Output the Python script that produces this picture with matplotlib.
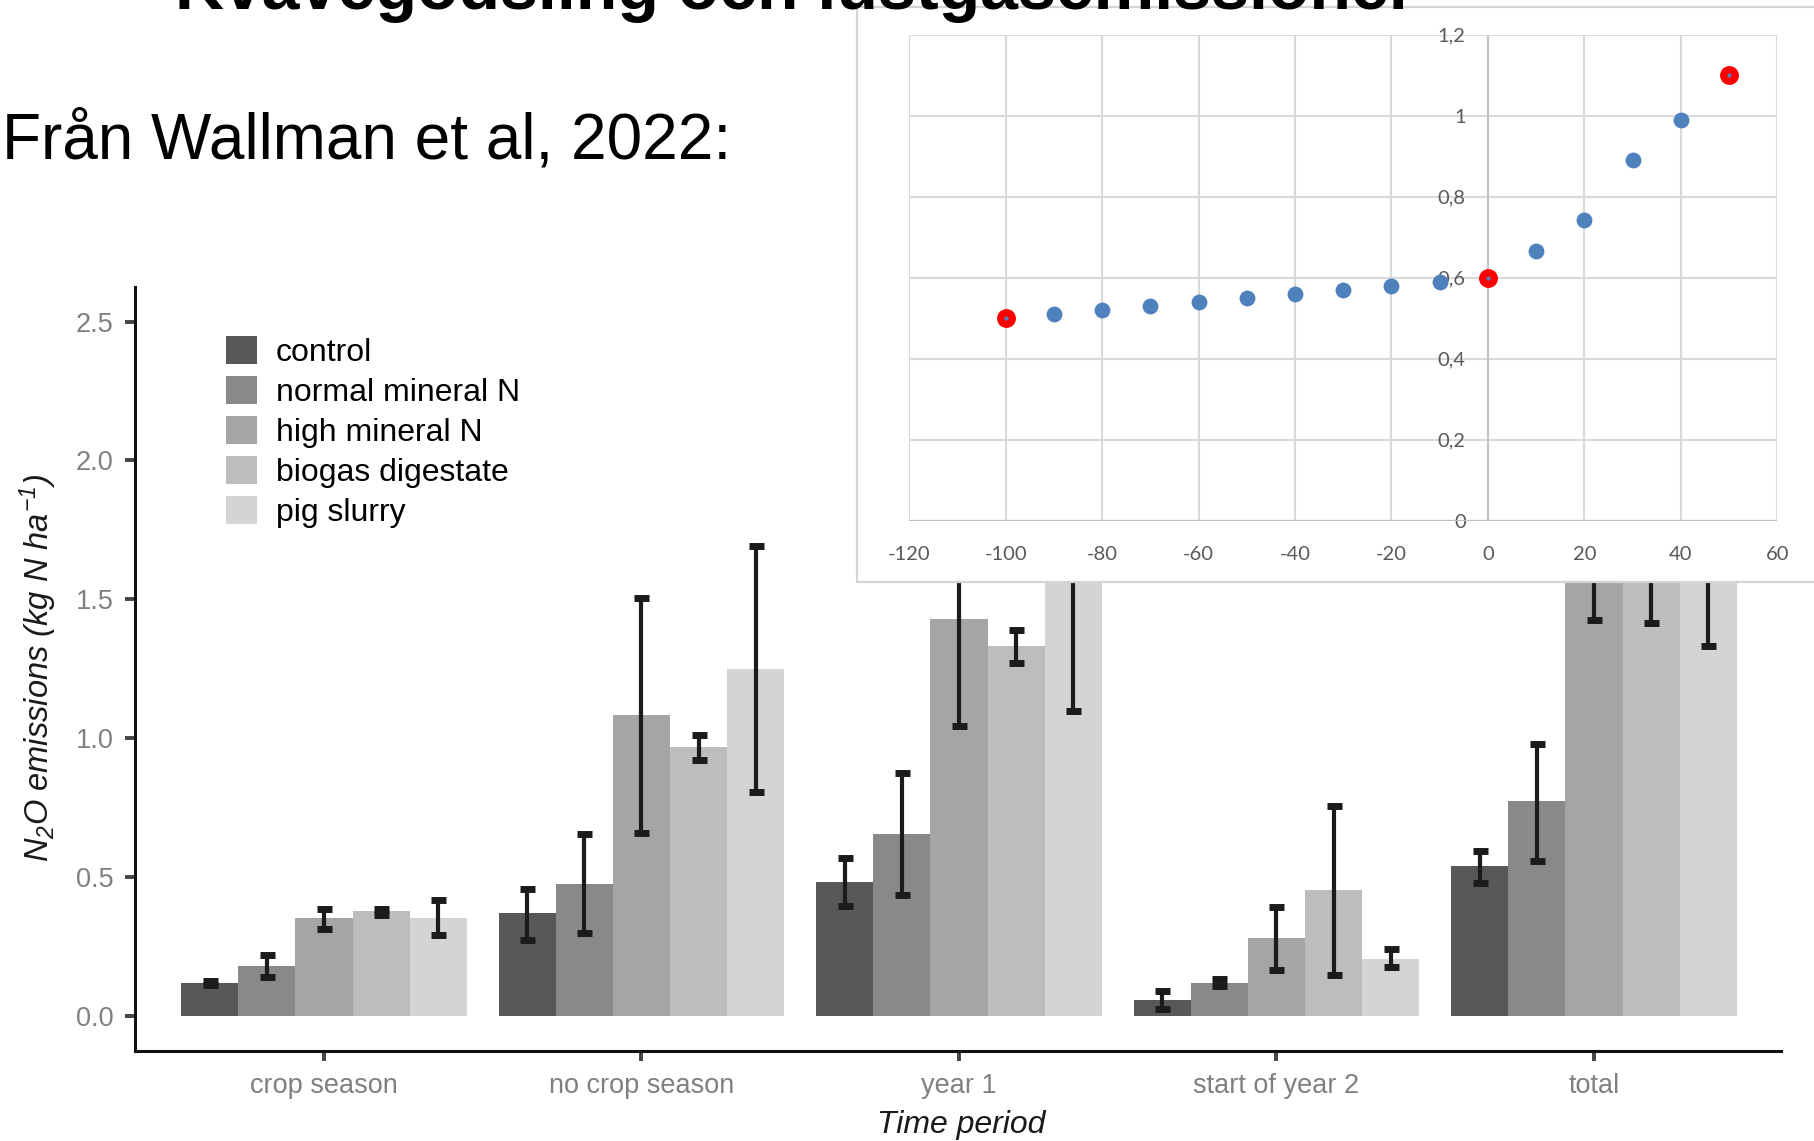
"""N2O emissions per time period and fertiliser treatment, with an inset curve."""

import matplotlib

matplotlib.use("Agg")
import matplotlib.pyplot as plt
import numpy as np
from matplotlib.patches import Patch, Rectangle

plt.rcParams["font.family"] = ["Liberation Sans", "DejaVu Sans"]
plt.rcParams["mathtext.fontset"] = "custom"
plt.rcParams["mathtext.it"] = "Liberation Sans:italic"
plt.rcParams["mathtext.rm"] = "Liberation Sans:italic"
plt.rcParams["axes.unicode_minus"] = False

# Bar chart data (kg N ha-1)
periods = ["crop season", "no crop season", "year 1", "start of year 2", "total"]
treatments = ["control", "normal mineral N", "high mineral N",
              "biogas digestate", "pig slurry"]
control = [0.118, 0.370, 0.483, 0.058, 0.538]
normal_n = [0.180, 0.475, 0.656, 0.119, 0.772]
high_n = [0.352, 1.083, 1.430, 0.281, 1.713]
biogas = [0.377, 0.967, 1.332, 0.454, 1.790]
pig = [0.352, 1.250, 1.600, 0.205, 1.800]
# error bar ends
control_lo = [0.110, 0.274, 0.395, 0.025, 0.478]
control_hi = [0.126, 0.458, 0.570, 0.088, 0.592]
normal_lo = [0.139, 0.297, 0.435, 0.107, 0.559]
normal_hi = [0.219, 0.656, 0.875, 0.131, 0.977]
high_lo = [0.311, 0.660, 1.044, 0.165, 1.425]
high_hi = [0.386, 1.503, 1.816, 0.392, 2.000]
biogas_lo = [0.363, 0.922, 1.272, 0.146, 1.413]
biogas_hi = [0.386, 1.012, 1.388, 0.756, 2.170]
pig_lo = [0.292, 0.805, 1.097, 0.176, 1.333]
pig_hi = [0.417, 1.690, 2.100, 0.240, 2.260]

bar_colors = ["#58585a", "#89898b", "#a4a5a7", "#bdbdbf", "#d3d4d5"]

# Inset curve
inset_x = [-100, -90, -80, -70, -60, -50, -40, -30, -20, -10, 0, 10, 20, 30, 40, 50]
inset_y = [0.50, 0.51, 0.52, 0.53, 0.54, 0.55, 0.56, 0.57, 0.58, 0.59, 0.60,
           0.667, 0.742, 0.891, 0.990, 1.100]
highlight_x = [-100, 0, 50]
inset_xticks = [-120, -100, -80, -60, -40, -20, 0, 20, 40, 60]
inset_yticks = [0, 0.2, 0.4, 0.6, 0.8, 1.0, 1.2]
inset_ylabels = ["0", "0,2", "0,4", "0,6", "0,8", "1", "1,2"]

fig = plt.figure(figsize=(18.14, 11.41), dpi=100)

fig.text(0.0965, 0.9925, "Kvävegödsling och lustgasemissioner", fontsize=49,
         fontweight="bold", ha="left", va="baseline", zorder=10)
fig.text(0.001, 0.861, "Från Wallman et al, 2022:", fontsize=46,
         ha="left", va="baseline")

# ---- bar chart ----
ax = fig.add_axes([0.0746, 0.0793, 0.9074, 0.6693])
ax.set_zorder(0)
means = [control, normal_n, high_n, biogas, pig]
lows = [control_lo, normal_lo, high_lo, biogas_lo, pig_lo]
highs = [control_hi, normal_hi, high_hi, biogas_hi, pig_hi]
width = 0.18
xs = np.arange(len(periods))
for j, name in enumerate(treatments):
    pos = xs + (j - 2) * width
    m = np.array(means[j])
    ax.bar(pos, m, width, color=bar_colors[j], label=name, linewidth=0)
    ax.errorbar(pos, m, yerr=[m - np.array(lows[j]), np.array(highs[j]) - m],
                fmt="none", ecolor="#1c1a1c", elinewidth=3.0, capsize=5.4,
                capthick=5)

ax.set_xlim(-0.594, 4.59)
ax.set_ylim(-0.125, 2.625)
ax.set_xticks(xs)
ax.set_xticklabels(periods)
ax.set_yticks([0, 0.5, 1.0, 1.5, 2.0, 2.5])
ax.set_yticklabels(["0.0", "0.5", "1.0", "1.5", "2.0", "2.5"])
for side in ["top", "right"]:
    ax.spines[side].set_visible(False)
for side in ["left", "bottom"]:
    ax.spines[side].set_linewidth(2.2)
    ax.spines[side].set_color("#111111")
ax.tick_params(length=7.5, width=2.8, color="#444444", labelcolor="#808080",
               labelsize=19.5)
ax.tick_params(axis="y", pad=8)
ax.tick_params(axis="x", pad=9)

fig.text(0.530, 0.0138, "Time period", fontsize=23, style="italic",
         ha="center", va="center", color="#1a1a1a")
fig.text(0.021, 0.415, r"$N_2O\ emissions\ (kg\ N\ ha^{-1})$", fontsize=23.5,
         rotation=90, ha="center", va="center", color="#1a1a1a")

handles = [Patch(facecolor=c, edgecolor="none") for c in bar_colors]
ax.legend(handles, treatments, loc="upper left", bbox_to_anchor=(0.1244, 0.7055),
          bbox_transform=fig.transFigure, frameon=False, borderpad=0,
          borderaxespad=0, handlelength=0.97, handleheight=0.97,
          handletextpad=0.6, labelspacing=0.25, fontsize=23)

# ---- inset curve ----
fig.patches.append(Rectangle((0.4726, 0.4899), 0.6, 0.504,
                             transform=fig.transFigure, facecolor="white",
                             edgecolor="#d4d4d4", linewidth=1.6, zorder=2))
axin = fig.add_axes([0.5013, 0.5437, 0.4784, 0.4259])
axin.set_zorder(3)
axin.patch.set_alpha(0)
axin.set_xlim(-120, 60)
axin.set_ylim(0, 1.2)
axin.set_xticks(inset_xticks)
axin.set_yticks(inset_yticks)
axin.set_yticklabels(inset_ylabels)
axin.grid(True, color="#d9d9d9", linewidth=1.5)
axin.set_axisbelow(True)
for side in ["top", "right", "bottom", "left"]:
    axin.spines[side].set_visible(False)
axin.spines["left"].set_position(("data", 0))
axin.axhline(0, color="#bfbfbf", linewidth=1.6, zorder=1)
axin.axvline(0, color="#c4c4c4", linewidth=1.5, zorder=1)
axin.tick_params(length=0, labelsize=14.5, labelcolor="#595959")
axin.tick_params(axis="y", pad=16)
axin.tick_params(axis="x", pad=18)
for lab in axin.get_xticklabels() + axin.get_yticklabels():
    lab.set_family("Lato")

axin.scatter(inset_x, inset_y, s=130, color="#4f81bd", linewidths=0, zorder=3)
hl_y = [inset_y[inset_x.index(v)] for v in highlight_x]
axin.scatter(highlight_x, hl_y, s=185, color="#ff0000", linewidths=0, zorder=4)
axin.scatter(highlight_x, hl_y, s=9, color="#4f81bd", linewidths=0, zorder=5)

fig.savefig("out.png", dpi=100)
